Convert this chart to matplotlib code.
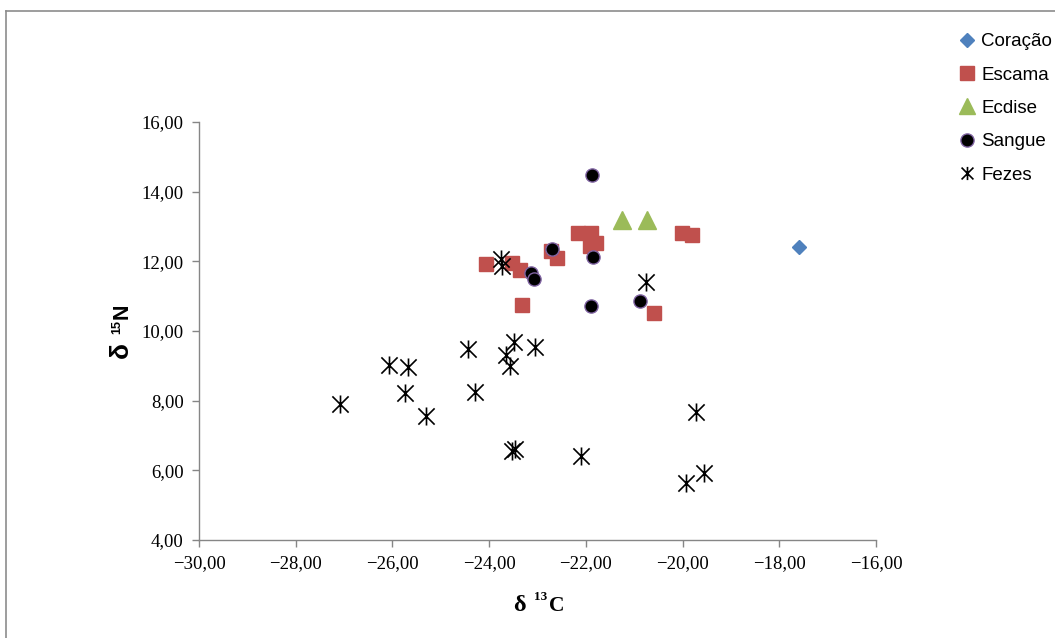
import numpy as np
import matplotlib
matplotlib.use("Agg")
import matplotlib.pyplot as plt
from matplotlib.path import Path
from matplotlib.lines import Line2D
from matplotlib.ticker import FuncFormatter

# valores (delta 13C, delta 15N)
coracao_x = [-17.59]
coracao_y = [12.41]

escama_x = [-24.07, -23.53, -23.36, -23.32, -22.72, -22.60, -22.16,
            -21.89, -21.91, -21.79, -20.01, -19.81, -20.59]
escama_y = [11.92, 11.95, 11.75, 10.75, 12.30, 12.10, 12.81,
            12.81, 12.44, 12.53, 12.81, 12.76, 10.52]

ecdise_x = [-21.25, -20.74]
ecdise_y = [13.18, 13.18]

sangue_x = [-21.88, -22.69, -23.13, -23.07, -21.86, -21.89, -20.88]
sangue_y = [14.48, 12.35, 11.67, 11.48, 12.12, 10.73, 10.87]

fezes_x = [-27.08, -26.07, -25.68, -25.74, -25.31, -24.44, -24.30, -23.76,
           -23.73, -23.65, -23.49, -23.57, -23.05, -23.53, -23.47, -22.10,
           -20.76, -19.72, -19.93, -19.56]
fezes_y = [7.90, 9.02, 8.97, 8.22, 7.56, 9.48, 8.25, 12.07,
           11.87, 9.31, 9.68, 9.00, 9.54, 6.55, 6.61, 6.41,
           11.41, 7.67, 5.64, 5.92]

x_ticks = np.arange(-30, -15, 2)
y_ticks = np.arange(4, 17, 2)

W, H = 1055, 638


def fx(px):
    return px / W


def fy(py):
    return 1 - py / H


# asterisco estilo Excel: linha vertical + X
estrela = Path([(0, -1), (0, 1), (-0.9, -0.9), (0.9, 0.9), (-0.9, 0.9), (0.9, -0.9)],
               [Path.MOVETO, Path.LINETO, Path.MOVETO, Path.LINETO, Path.MOVETO, Path.LINETO])

fig = plt.figure(figsize=(W / 100, H / 100), dpi=100)
ax = fig.add_axes([fx(199), fy(540), 677 / W, 418 / H])

ax.plot(coracao_x, coracao_y, ls='none', marker='D', ms=7, color='#4F81BD')
ax.plot(escama_x, escama_y, ls='none', marker='s', ms=10.5, color='#C0504D')
ax.plot(ecdise_x, ecdise_y, ls='none', marker='^', ms=13, color='#9BBB59')
ax.plot(sangue_x, sangue_y, ls='none', marker='o', ms=9.5, mfc='black', mec='#8064A2', mew=1.0)
ax.plot(fezes_x, fezes_y, ls='none', marker=estrela, ms=13, mfc='none', mec='black', mew=1.2)

ax.set_xlim(-30, -16)
ax.set_ylim(4, 16)
ax.set_xticks(x_ticks)
ax.set_yticks(y_ticks)

fmt = FuncFormatter(lambda v, p: f"{v:.2f}".replace('.', ',').replace('-', '\u2212'))
ax.xaxis.set_major_formatter(fmt)
ax.yaxis.set_major_formatter(fmt)

for s in ['top', 'right']:
    ax.spines[s].set_visible(False)
for s in ['left', 'bottom']:
    ax.spines[s].set_color('#868686')
    ax.spines[s].set_linewidth(1.0)
ax.tick_params(axis='both', direction='out', length=5, width=1.0, color='#868686',
               labelsize=13.5, pad=6)
for lab in ax.get_xticklabels() + ax.get_yticklabels():
    lab.set_family('Liberation Serif')

# rótulos dos eixos montados por partes (sobrescrito maior que o unicode)
serif = ['Liberation Serif', 'DejaVu Serif']
sans = ['Liberation Sans', 'DejaVu Sans']
fig.text(fx(519), fy(611), 'δ', family=serif, weight='bold', size=17.5, ha='center', va='baseline')
fig.text(fx(541), fy(600), '13', family=serif, weight='bold', size=9.5, ha='center', va='baseline')
fig.text(fx(557), fy(611), 'C', family=serif, weight='bold', size=15.5, ha='center', va='baseline')

fig.text(fx(128), fy(350), 'δ', family=sans, weight='bold', size=19, rotation=90,
         rotation_mode='anchor', ha='center', va='baseline')
fig.text(fx(120), fy(326.5), '15', family=sans, weight='bold', size=9, rotation=90,
         rotation_mode='anchor', ha='center', va='baseline')
fig.text(fx(128), fy(311), 'N', family=sans, weight='bold', size=15.5, rotation=90,
         rotation_mode='anchor', ha='center', va='baseline')

# legenda
handles = [
    Line2D([], [], ls='none', marker='D', ms=7.5, color='#4F81BD'),
    Line2D([], [], ls='none', marker='s', ms=10.5, color='#C0504D'),
    Line2D([], [], ls='none', marker='^', ms=11, color='#9BBB59'),
    Line2D([], [], ls='none', marker='o', ms=9.5, mfc='black', mec='#8064A2', mew=1.0),
    Line2D([], [], ls='none', marker=estrela, ms=9.5, mfc='none', mec='black', mew=1.2),
]
labels = ['Coração', 'Escama', 'Ecdise', 'Sangue', 'Fezes']
fig.legend(handles, labels, loc='upper left', bbox_to_anchor=(fx(959), fy(33)), frameon=False,
           prop={'family': 'Liberation Sans', 'size': 13.5}, handlelength=0.8,
           handletextpad=0.4, labelspacing=0.87, borderpad=0, borderaxespad=0)

# moldura da área do gráfico
fig.add_artist(Line2D([fx(5.5), fx(5.5)], [0, fy(10.5)], color='#8C8C8C', lw=1.2))
fig.add_artist(Line2D([fx(5.5), 1], [fy(10.5), fy(10.5)], color='#8C8C8C', lw=1.2))

fig.savefig('out.png', dpi=100)
